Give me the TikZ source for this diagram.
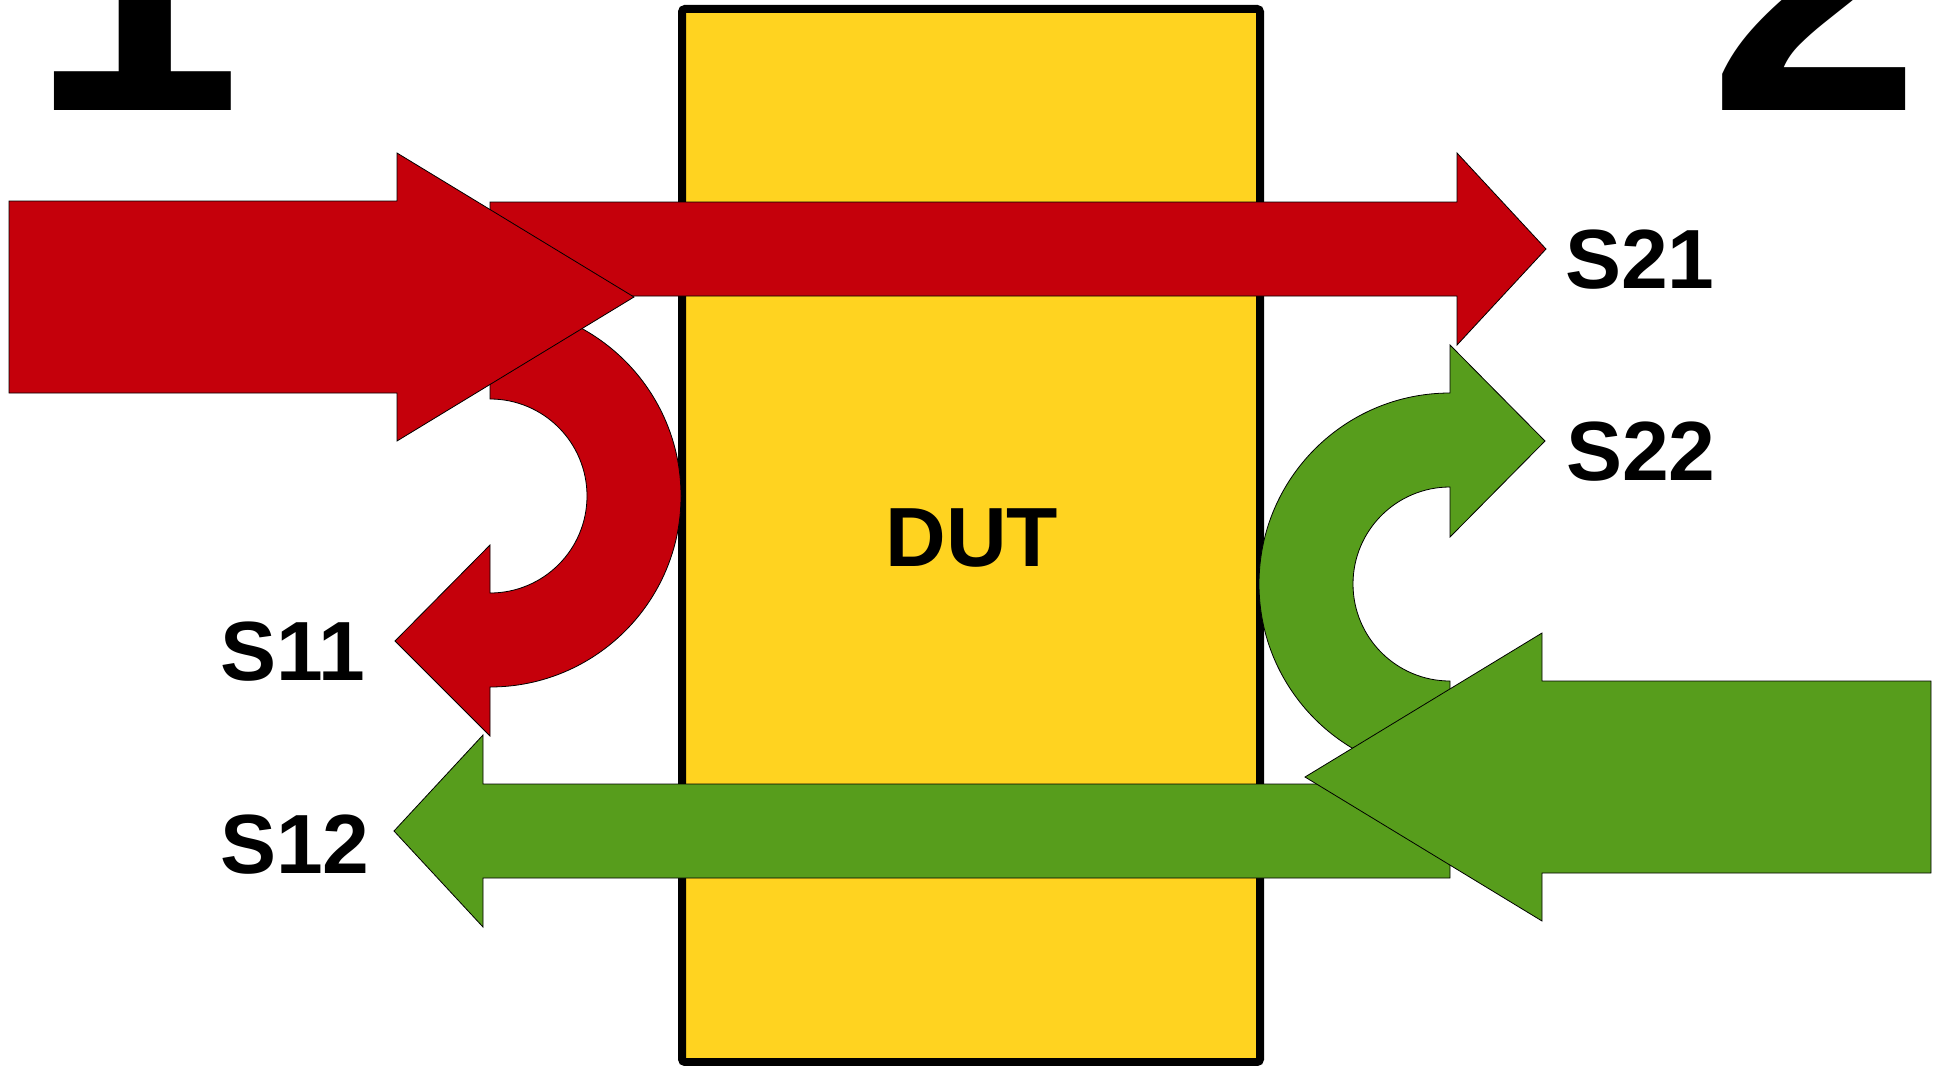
\documentclass[tikz,border=0pt]{standalone}
\usepackage{fontspec}
\setmainfont{Liberation Sans}
\usetikzlibrary{calc}
\definecolor{portred}{HTML}{C5000B}
\definecolor{portgreen}{HTML}{579D1C}
\definecolor{dutyellow}{HTML}{FFD320}
\tikzset{
  redarrow/.style={fill=portred, draw=black, line width=0.8pt, line join=miter},
  greenarrow/.style={fill=portgreen, draw=black, line width=0.8pt, line join=miter},
  slabel/.style={anchor=base west, inner sep=0pt, font=\fontsize{84}{90}\selectfont\bfseries},
  portnum/.style={anchor=base, inner sep=0pt, font=\fontsize{380}{400}\selectfont\bfseries}
}
\begin{document}
\begin{tikzpicture}[x=1pt, y=1pt]
\useasboundingbox (0,0) rectangle (1945,-1065);
\draw[fill=dutyellow, line width=8pt, rounded corners=3pt] (682,-9) rectangle (1260,-1062);
\node[anchor=base, inner sep=0pt, font=\fontsize{84}{90}\selectfont\bfseries] (dut) at (972,-566) {DUT};
\coordinate (c11) at (490,-496);
\coordinate (c22) at (1450,-584);
\draw[redarrow] (490,-202) -- (1457,-202) -- (1457,-153) -- (1546,-249) -- (1457,-345) -- (1457,-296) -- (490,-296) -- cycle;
\draw[redarrow] ($(c11)+(0,191)$) arc[start angle=90, end angle=-90, radius=191pt] -- (490,-736) -- (395,-641) -- (490,-545) -- ($(c11)+(0,-97)$) arc[start angle=-90, end angle=90, radius=97pt] -- cycle;
\draw[redarrow] (9,-201) -- (397,-201) -- (397,-153) -- (634,-297) -- (397,-441) -- (397,-393) -- (9,-393) -- cycle;
\draw[greenarrow] (1450,-784) -- (483,-784) -- (483,-735) -- (394,-831) -- (483,-927) -- (483,-878) -- (1450,-878) -- cycle;
\draw[greenarrow] ($(c22)+(0,191)$) arc[start angle=90, end angle=270, radius=191pt] -- ($(c22)+(0,-97)$) arc[start angle=270, end angle=90, radius=97pt] -- (1450,-537) -- (1545,-441) -- (1450,-345) -- cycle;
\draw[greenarrow] (1931,-681) -- (1542,-681) -- (1542,-633) -- (1305,-777) -- (1542,-921) -- (1542,-873) -- (1931,-873) -- cycle;
\node[slabel] (s21) at (1565,-288) {S21};
\node[slabel] (s22) at (1566,-480) {S22};
\node[slabel] (s11) at (220,-680) {S11};
\node[slabel] (s12) at (220,-873) {S12};
\node[portnum] (port1) at (136,-110) {1};
\node[portnum] (port2) at (1815,-110) {2};
\end{tikzpicture}
\end{document}
